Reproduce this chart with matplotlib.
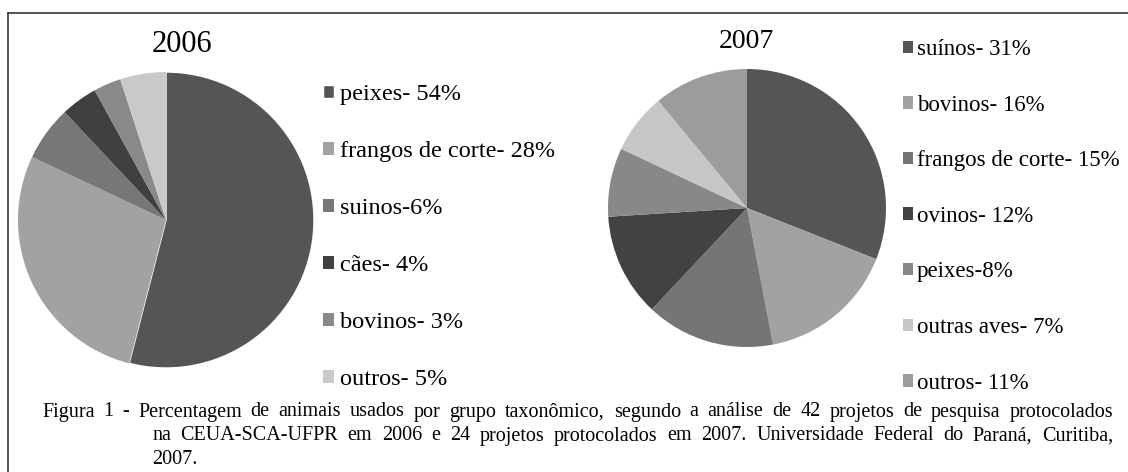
import matplotlib
matplotlib.use("Agg")
import matplotlib.pyplot as plt
from matplotlib.lines import Line2D

# ---- data ----
labels_2006 = ["peixes- 54%", "frangos de corte- 28%", "suinos-6%", "cães- 4%", "bovinos- 3%", "outros- 5%"]
values_2006 = [54, 28, 6, 4, 3, 5]
colors_2006 = ["#555555", "#a2a2a2", "#777777", "#404040", "#898989", "#c9c9c9"]

labels_2007 = ["suínos- 31%", "bovinos- 16%", "frangos de corte- 15%", "ovinos- 12%", "peixes-8%", "outras aves- 7%", "outros- 11%"]
values_2007 = [31, 16, 15, 12, 8, 7, 11]
colors_2007 = ["#555555", "#a2a2a2", "#757575", "#424242", "#888888", "#c6c6c6", "#9c9c9c"]

caption_lines = [
    "Figura 1 - Percentagem de animais usados por grupo taxonômico, segundo a análise de 42 projetos de pesquisa protocolados",
    "na CEUA-SCA-UFPR em 2006 e 24 projetos protocolados em 2007. Universidade Federal do Paraná, Curitiba,",
    "2007.",
]

W, H = 1128, 472
plt.rcParams['font.family'] = ['Liberation Serif', 'DejaVu Serif']
fig = plt.figure(figsize=(W / 100, H / 100), dpi=100)
fig.patch.set_facecolor("white")

def px_axes(cx, cy, r):
    return [(cx - r) / W, (H - cy - r) / H, 2 * r / W, 2 * r / H]

def draw_pie(rect, values, colors):
    ax = fig.add_axes(rect)
    wedges, _ = ax.pie(values, colors=colors, startangle=90, counterclock=False,
                       radius=1, wedgeprops=dict(linewidth=0))
    ax.set_xlim(-1, 1)
    ax.set_ylim(-1, 1)
    ax.set_aspect('auto')
    ax.set_position(rect)
    return ax, wedges

ax1, w1 = draw_pie(px_axes(166, 220, 148), values_2006, colors_2006)
w1[0].set_edgecolor("white")
w1[0].set_linewidth(1.0)
ax2, w2 = draw_pie(px_axes(747, 208, 139), values_2007, colors_2007)

fig.text(182 / W, 1 - 45 / H, "2006", fontsize=22, ha='center', va='center')
fig.text(746 / W, 1 - 42 / H, "2007", fontsize=20, ha='center', va='center')

leg_kw = dict(frameon=False, handlelength=0.45, handleheight=0.45,
              borderpad=0, borderaxespad=0, loc='upper left',
              bbox_transform=fig.transFigure)
fig.legend(w1, labels_2006, bbox_to_anchor=(323 / W, 1 - 84 / H), fontsize=17.5,
           handletextpad=0.25, labelspacing=1.48, **leg_kw)
fig.legend(w2, labels_2007, bbox_to_anchor=(903 / W, 1 - 39 / H), fontsize=16.5,
           handletextpad=0.15, labelspacing=1.51, **leg_kw)

# border (top and left)
fig.add_artist(Line2D([8 / W, 1.0], [1 - 13 / H, 1 - 13 / H], transform=fig.transFigure, color="#444444", lw=1.3))
fig.add_artist(Line2D([8 / W, 8 / W], [0, 1 - 13 / H], transform=fig.transFigure, color="#444444", lw=1.3))

# caption with justification
cap_fs = 14.5
line_specs = [(42, 1113, 412, True), (152, 1113, 436, True), (152, None, 460, False)]
fig.canvas.draw()
renderer = fig.canvas.get_renderer()
for text, (x0, x1, y, just) in zip(caption_lines, line_specs):
    if not just:
        fig.text(x0 / W, 1 - y / H, text, fontsize=cap_fs, ha='left', va='center')
        continue
    words = text.split(" ")
    arts = [fig.text(0, 1 - y / H, w_, fontsize=cap_fs, ha='left', va='center') for w_ in words]
    widths = [a.get_window_extent(renderer).width for a in arts]
    gap = (x1 - x0 - sum(widths)) / (len(words) - 1)
    x = x0
    for a, wd in zip(arts, widths):
        a.set_x(x / W)
        x += wd + gap

fig.savefig("out.png", dpi=100)
